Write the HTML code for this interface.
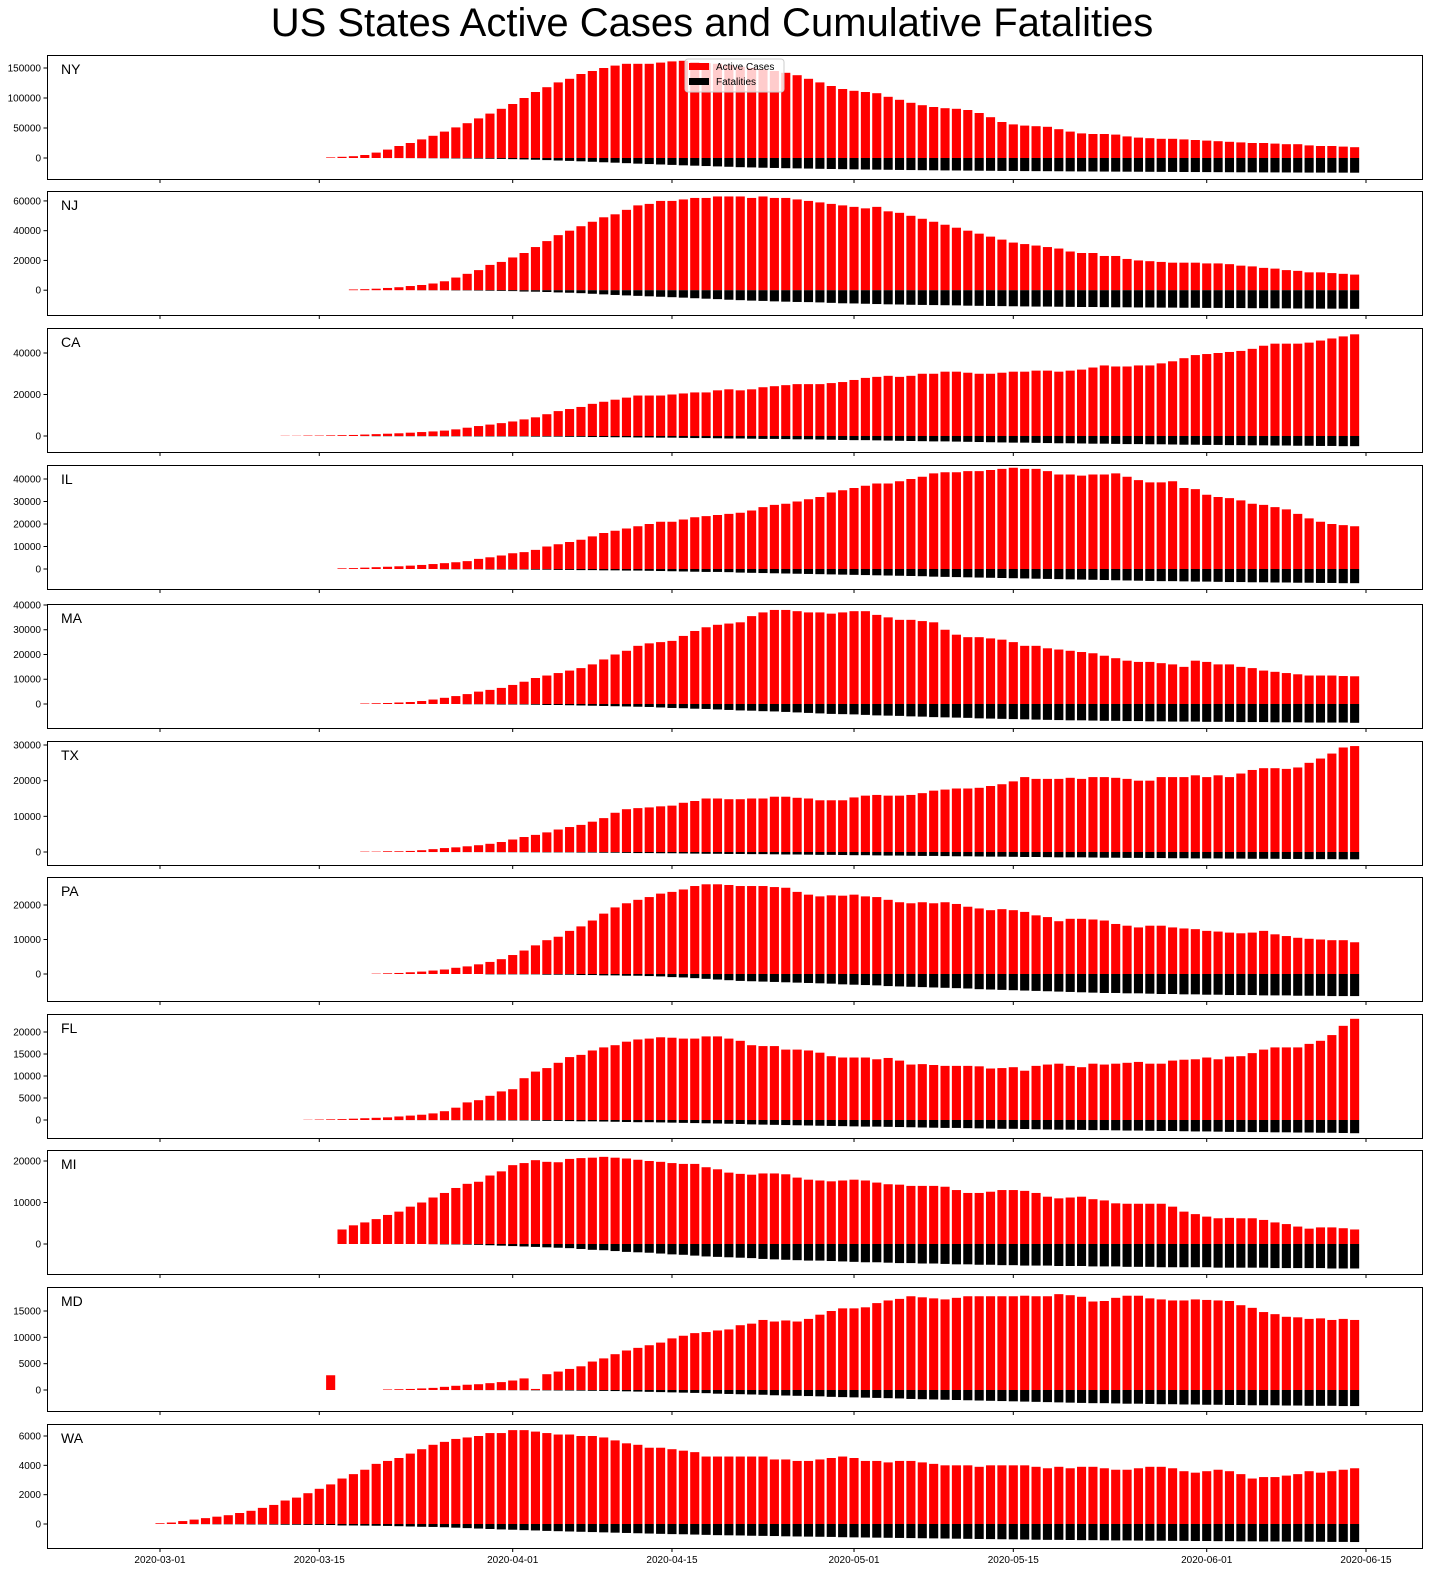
<!DOCTYPE html>
<html><head><meta charset="utf-8"><style>
html,body{margin:0;padding:0;background:#fff;}
svg{display:block;font-family:"Liberation Sans","DejaVu Sans",sans-serif;}
</style></head><body>
<svg id="chart" width="1440" height="1584" viewBox="0 0 1440 1584" xmlns="http://www.w3.org/2000/svg">
<text x="712" y="36" font-size="40" text-anchor="middle" fill="#000">US States Active Cases and Cumulative Fatalities</text>
</svg>
<script>
// values in thousands, day index 0 = 2020-03-01
const states = ["NY","NJ","CA","IL","MA","TX","PA","FL","MI","MD","WA"];
const startDays = [15,17,11,16,18,18,19,13,16,15,0];
const xTickLabels = ["2020-03-01","2020-03-15","2020-04-01","2020-04-15","2020-05-01","2020-05-15","2020-06-01","2020-06-15"];
const xTickDays = [0,14,31,45,61,75,92,106];
const yTicks = [[0,50000,100000,150000],[0,20000,40000,60000],[0,20000,40000],[0,10000,20000,30000,40000],[0,10000,20000,30000,40000],[0,10000,20000,30000],[0,10000,20000],[0,5000,10000,15000,20000],[0,10000,20000],[0,5000,10000,15000],[0,2000,4000,6000]];
const yMin = [-35000,-16667,-7711,-8889,-9697,-3645,-7826,-4091,-7229,-3987,-1636];
const yMax = [171667,66667,52048,46222,40400,31121,28116,24091,22651,19557,6818];

const nyActive = [1,2,3,5,9,14,20,25,31,37,44,51,58,66,74,82,90,100,110,118,126,132,140,145,150,154,157,157,157,159,161,162,160,158,157,155,152,150,148,145,142,138,132,126,120,115,112,110,108,102,97,92,88,85,83,82,80,75,68,60,56,54,53,52,48,44,41,40,40,39,36,34,33,32,32,31,30,29,28,27,26,25,25,24,23,23,21,20,20,19,18];
const nyDeaths = [0,0,0,0,0,0.1,0.1,0.2,0.3,0.4,0.5,0.7,0.9,1.0,1.2,1.5,1.9,2.4,2.9,3.5,4.2,4.8,5.5,6.3,7.1,7.8,8.6,9.4,10.1,10.8,11.5,12.2,12.8,13.4,14.0,14.6,15.3,15.7,16.2,16.6,17.0,17.3,17.6,18.0,18.3,18.6,18.9,19.2,19.4,19.6,19.9,20.1,20.3,20.5,20.7,20.8,21.0,21.2,21.3,21.5,21.6,21.8,21.9,22.0,22.1,22.3,22.4,22.5,22.6,22.7,22.8,22.9,23.0,23.1,23.2,23.3,23.4,23.5,23.6,23.7,23.8,23.9,24.0,24.0,24.1,24.2,24.3,24.3,24.4,24.4,24.5];
const njActive = [0.5,0.7,1,1.5,2,2.8,3.5,4.5,6,8.5,11,13.5,17,19,22,25,29,33,37,40,43,46,49,51,54,57,58,60,60,61,62,62,63,63,63,62,63,62,62,61,60,59,58,57,56,55,56,53,52,50,48,46,44,42,40,38,36,34,32,31,30,29,28,26,25,25,23,23,21,20,19.5,19,18.5,18.5,18.5,18,18,17.5,16.5,16,15,14.5,13.5,13,12,12,11.5,11,10.5];
const njDeaths = [0,0,0,0,0,0,0.1,0.1,0.1,0.2,0.2,0.3,0.4,0.5,0.6,0.9,1.0,1.2,1.5,1.7,2.0,2.4,2.8,3.2,3.5,3.8,4.1,4.4,4.7,5.0,5.4,5.7,6.0,6.4,6.7,7.0,7.2,7.5,7.7,7.9,8.0,8.2,8.5,8.8,8.9,9.1,9.3,9.5,9.6,9.8,9.9,10.0,10.1,10.2,10.4,10.5,10.6,10.7,10.8,10.9,11.0,11.0,11.1,11.2,11.3,11.3,11.4,11.5,11.5,11.6,11.6,11.7,11.7,11.8,11.8,11.9,11.9,12.0,12.0,12.1,12.1,12.2,12.2,12.3,12.3,12.4,12.4,12.4,12.5];
const caActive = [0.1,0.1,0.2,0.2,0.3,0.4,0.5,0.7,0.9,1.1,1.3,1.6,1.9,2.2,2.6,3.2,4,4.8,5.5,6.2,7,8,9,10.5,12,13,14,15.5,16.5,17.5,18.5,19.5,19.5,19.5,20,20.5,21,21,22,22.5,22,22.5,23.5,24,24.5,25,25,25,25.5,26,27,28,28.5,29,28.5,29,30,30,31,31,30.5,30,30,30.5,31,31,31.5,31.5,31,31.5,32,33,34,33.5,33.5,34,34,35,36,37.5,39,39.5,40,40.5,41,42,43.5,44.5,44.5,44.5,45,46,47,48,49];
const caDeaths = [0,0,0,0,0,0,0,0.05,0.1,0.1,0.1,0.1,0.1,0.1,0.15,0.15,0.15,0.2,0.2,0.2,0.2,0.2,0.3,0.3,0.3,0.4,0.4,0.5,0.5,0.6,0.6,0.7,0.7,0.8,0.8,0.9,1.0,1.0,1.1,1.2,1.2,1.3,1.4,1.4,1.5,1.6,1.6,1.7,1.8,1.9,2.0,2.0,2.1,2.2,2.3,2.4,2.5,2.6,2.6,2.7,2.8,2.9,3.0,3.1,3.2,3.2,3.3,3.4,3.5,3.5,3.6,3.7,3.7,3.8,3.9,3.9,4.0,4.0,4.1,4.2,4.2,4.3,4.3,4.4,4.4,4.5,4.5,4.6,4.6,4.7,4.7,4.8,4.8,4.9,4.9];
const ilActive = [0.3,0.4,0.6,0.8,1,1.2,1.5,1.8,2.2,2.6,3,3.5,4.5,5.2,6,7,7.5,8.5,10,11,12,13,14.5,16,17,18,19,20,21,21,22,23,23.5,24,24.5,25,26,27.5,28.5,29,30,31,32,34,35,36,37,38,38,39,40,41,42.5,43,43,43.5,43.5,44,44.5,45,44.5,44.5,43.5,42,42,41.5,42,42,42.5,41,39.5,38.5,38.5,39,36,35.5,33,32,31.5,30.5,29,28.5,27.5,26.5,24.5,22.5,21,20,19.5,19];
const ilDeaths = [0,0,0,0,0,0,0,0,0,0.1,0.1,0.1,0.1,0.2,0.2,0.2,0.2,0.3,0.3,0.4,0.4,0.5,0.5,0.6,0.6,0.7,0.7,0.8,0.9,1.0,1.1,1.2,1.3,1.3,1.4,1.6,1.7,1.8,1.9,2.0,2.1,2.2,2.3,2.4,2.5,2.6,2.7,2.8,2.9,3.0,3.1,3.2,3.4,3.5,3.6,3.7,3.8,3.9,4.0,4.1,4.2,4.3,4.4,4.5,4.6,4.7,4.8,4.9,5.0,5.1,5.2,5.3,5.4,5.4,5.5,5.6,5.6,5.7,5.8,5.8,5.9,5.9,6.0,6.0,6.1,6.1,6.2,6.2,6.3,6.3];
const maActive = [0.2,0.3,0.4,0.6,0.8,1.2,1.8,2.5,3.2,4,5,5.7,6.5,7.7,9,10.5,11.5,12.5,13.5,14.5,16,18,20,21.5,23.5,24.5,25,25.5,27.5,29.5,31,32,32.5,33,35.5,37,38,38,37.5,37,37,36.5,37,37.5,37.5,36,35,34,34,33.5,33,30,28,27,27,26.5,26,25,23.5,23.5,22.5,22,21.5,21,20.5,19.5,18.5,17.5,17,17,16.5,16,15,17.5,17,16,16,15,14.5,13.5,13,12.5,12,11.5,11.5,11.5,11.3,11.2];
const maDeaths = [0,0,0,0,0,0,0,0,0,0.1,0.1,0.1,0.2,0.2,0.2,0.3,0.4,0.4,0.5,0.6,0.7,0.8,0.9,1.0,1.1,1.2,1.4,1.6,1.7,1.9,2.0,2.2,2.4,2.6,2.7,2.9,3.0,3.2,3.4,3.6,3.8,4.0,4.1,4.2,4.4,4.6,4.7,4.8,5.0,5.1,5.3,5.4,5.5,5.6,5.8,5.9,6.0,6.1,6.2,6.3,6.4,6.5,6.6,6.6,6.7,6.8,6.8,6.9,6.9,7.0,7.0,7.1,7.1,7.1,7.2,7.2,7.2,7.3,7.3,7.3,7.4,7.4,7.4,7.5,7.5,7.5,7.5,7.6];
const txActive = [0.1,0.1,0.2,0.2,0.3,0.5,0.8,1.1,1.3,1.6,1.9,2.3,2.8,3.5,4.2,4.8,5.5,6.3,7,7.6,8.5,9.5,11,12,12.3,12.5,12.8,13,13.8,14.3,15,15,14.8,14.8,15,15,15.5,15.5,15.2,15,14.5,14.5,14.5,15.3,15.8,16,15.8,15.8,16,16.5,17.2,17.5,17.8,17.8,18,18.5,19,19.8,21,20.5,20.5,20.5,20.8,20.5,21,21,20.8,20.5,20,20,21,21,21,21.5,21,21.5,21,22,23,23.5,23.5,23.3,23.7,25,26.2,27.6,29.3,29.7];
const txDeaths = [0,0,0,0,0,0.01,0.01,0.02,0.02,0.03,0.03,0.04,0.05,0.06,0.07,0.08,0.1,0.1,0.1,0.15,0.15,0.2,0.2,0.25,0.3,0.3,0.35,0.35,0.4,0.45,0.5,0.5,0.55,0.55,0.6,0.6,0.65,0.7,0.7,0.75,0.8,0.8,0.85,0.9,0.9,0.95,1.0,1.0,1.05,1.1,1.1,1.15,1.2,1.2,1.25,1.3,1.3,1.35,1.4,1.4,1.45,1.5,1.5,1.5,1.55,1.6,1.6,1.65,1.65,1.7,1.7,1.75,1.75,1.8,1.8,1.8,1.85,1.85,1.9,1.9,1.9,1.95,1.95,2.0,2.0,2.0,2.05,2.05];
const paActive = [0.1,0.2,0.3,0.5,0.7,1,1.3,1.8,2.2,2.8,3.5,4.3,5.5,6.8,8.3,9.8,10.8,12.5,13.8,15.5,17.5,19.3,20.5,21.5,22.3,23.3,23.8,24.5,25.5,26,26,25.8,25.5,25.5,25.5,25.2,25,23.8,23,22.5,22.8,22.7,23,22.5,22.3,21.5,20.8,20.5,20.8,20.5,20.8,20.3,19.5,19,18.5,18.8,18.5,18,17,16.5,15.3,16,16,15.8,15.5,14.5,14,13.5,14,14,13.5,13.2,13,12.5,12.3,12,11.8,12,12.5,11.5,11,10.5,10.2,10,9.8,9.8,9.2];
const paDeaths = [0,0,0,0,0,0,0,0,0,0,0.1,0.1,0.1,0.1,0.1,0.2,0.2,0.2,0.3,0.3,0.4,0.4,0.5,0.5,0.6,0.7,0.9,1.0,1.2,1.4,1.6,1.8,2.0,2.1,2.2,2.3,2.4,2.5,2.6,2.7,2.8,3.0,3.1,3.2,3.3,3.5,3.6,3.7,3.8,3.9,4.0,4.1,4.2,4.4,4.5,4.6,4.7,4.8,4.9,5.0,5.1,5.2,5.3,5.4,5.5,5.5,5.6,5.6,5.7,5.8,5.8,5.9,5.9,6.0,6.0,6.1,6.1,6.1,6.2,6.2,6.2,6.3,6.3,6.3,6.4,6.4,6.4];
const flActive = [0.05,0.1,0.15,0.2,0.3,0.4,0.5,0.6,0.8,1,1.2,1.5,2,2.8,4,4.5,5.5,6.5,7,9.5,11,11.8,13,14.3,14.8,15.8,16.5,17,17.8,18.3,18.5,18.8,18.7,18.5,18.5,19,19,18.5,18,17,16.8,16.8,16,16,15.8,15.3,14.5,14.2,14.2,14.2,13.8,14.1,13.5,12.6,12.7,12.5,12.3,12.3,12.3,12.2,11.7,11.8,12,11.2,12.3,12.6,12.8,12.3,12,12.8,12.6,12.8,13,13.2,12.8,12.8,13.5,13.7,13.8,14.2,13.8,14.4,14.5,15.2,16,16.5,16.5,16.5,17.3,18,19.3,21.4,23];
const flDeaths = [0,0,0,0,0,0,0.01,0.01,0.02,0.02,0.03,0.03,0.04,0.05,0.06,0.07,0.08,0.1,0.1,0.1,0.15,0.2,0.2,0.25,0.3,0.3,0.35,0.4,0.45,0.5,0.5,0.55,0.6,0.65,0.7,0.75,0.8,0.85,0.9,1.0,1.05,1.1,1.15,1.2,1.25,1.3,1.35,1.4,1.45,1.5,1.5,1.55,1.6,1.65,1.7,1.75,1.8,1.8,1.85,1.9,1.95,2.0,2.0,2.05,2.1,2.15,2.2,2.2,2.25,2.3,2.3,2.35,2.4,2.4,2.45,2.5,2.5,2.55,2.6,2.6,2.65,2.7,2.7,2.75,2.75,2.8,2.8,2.85,2.85,2.9,2.9,2.95,3.0];
const miActive = [3.5,4.5,5.2,6,7,7.8,9,10,11.2,12.3,13.5,14.5,15,16.5,17.5,19,19.5,20.2,19.8,19.7,20.5,20.7,20.8,21,20.8,20.6,20.3,20,19.8,19.5,19.3,19.3,18.5,18,17.2,16.9,16.7,17,17,16.8,16,15.5,15.3,15.1,15.3,15.5,15.3,14.8,14.4,14.3,14,14,14,13.8,13,12.3,12.3,12.6,13,13,12.8,12.3,11.4,11,11.2,11.4,10.8,10.5,9.8,9.7,9.7,9.7,9.7,9,7.8,7.2,6.6,6.2,6.3,6.2,6.2,5.8,5.2,4.8,4.2,3.7,4.0,4.0,3.8,3.5];
const miDeaths = [0,0,0,0,0,0,0,0,0.05,0.1,0.1,0.15,0.2,0.3,0.4,0.5,0.6,0.7,0.8,0.9,1.0,1.2,1.4,1.5,1.7,1.9,2.0,2.1,2.3,2.5,2.6,2.8,3.0,3.1,3.2,3.3,3.4,3.6,3.7,3.8,3.9,4.0,4.0,4.1,4.2,4.3,4.4,4.4,4.5,4.6,4.6,4.7,4.7,4.8,4.9,4.9,5.0,5.0,5.1,5.1,5.2,5.2,5.2,5.3,5.3,5.3,5.4,5.4,5.4,5.5,5.5,5.5,5.6,5.6,5.6,5.6,5.6,5.7,5.7,5.7,5.7,5.7,5.8,5.8,5.8,5.8,5.8,5.9,5.9,5.9];
const mdActive = [2.8,null,null,null,null,0.1,0.15,0.2,0.3,0.4,0.6,0.8,1,1.1,1.3,1.5,1.8,2.2,0.2,3,3.5,4,4.5,5.4,6,6.8,7.5,8,8.5,9,9.8,10.3,10.8,11,11.3,11.5,12.3,12.6,13.3,13,13.2,13,13.5,14.3,15,15.5,15.5,15.7,16.5,17,17.3,17.8,17.6,17.4,17.2,17.5,17.8,17.8,17.8,17.8,17.8,17.9,17.8,17.8,18.2,18,17.7,16.8,16.9,17.5,17.9,17.9,17.4,17.2,17.0,17.0,17.2,17.1,17.0,16.9,16.1,15.6,14.8,14.4,13.9,13.8,13.5,13.6,13.3,13.5,13.3];
const mdDeaths = [0,null,null,null,null,0,0,0,0,0,0.01,0.01,0.01,0.02,0.02,0.03,0.04,0.05,0.06,0.07,0.09,0.1,0.12,0.15,0.17,0.2,0.25,0.3,0.35,0.4,0.45,0.5,0.55,0.6,0.7,0.75,0.8,0.85,0.9,1.0,1.05,1.1,1.15,1.2,1.3,1.35,1.4,1.45,1.5,1.55,1.6,1.7,1.75,1.8,1.85,1.9,1.95,2.0,2.05,2.1,2.15,2.2,2.25,2.3,2.35,2.4,2.45,2.5,2.5,2.55,2.6,2.6,2.65,2.7,2.7,2.75,2.75,2.8,2.8,2.85,2.85,2.9,2.9,2.9,2.95,2.95,3.0,3.0,3.0,3.05,3.05];
const waActive = [0.05,0.1,0.2,0.3,0.4,0.5,0.6,0.75,0.9,1.1,1.3,1.6,1.8,2.1,2.4,2.7,3.1,3.4,3.7,4.1,4.3,4.5,4.8,5.1,5.4,5.6,5.8,5.9,6.0,6.2,6.2,6.4,6.4,6.3,6.2,6.1,6.1,6.0,6.0,5.9,5.7,5.5,5.4,5.2,5.2,5.1,5.0,4.9,4.6,4.6,4.6,4.6,4.6,4.6,4.4,4.4,4.3,4.3,4.4,4.5,4.6,4.5,4.3,4.3,4.2,4.3,4.3,4.2,4.1,4.0,4.0,4.0,3.9,4.0,4.0,4.0,4.0,3.9,3.8,3.9,3.8,3.9,3.9,3.8,3.7,3.7,3.8,3.9,3.9,3.8,3.6,3.5,3.6,3.7,3.6,3.4,3.1,3.2,3.2,3.3,3.4,3.6,3.5,3.6,3.7,3.8];
const waDeaths = [0,0,0,0.01,0.01,0.02,0.02,0.02,0.03,0.03,0.04,0.05,0.05,0.06,0.06,0.07,0.1,0.1,0.11,0.12,0.13,0.15,0.17,0.19,0.2,0.22,0.25,0.28,0.31,0.34,0.37,0.39,0.42,0.44,0.47,0.49,0.51,0.53,0.55,0.57,0.59,0.61,0.63,0.65,0.67,0.69,0.7,0.72,0.74,0.76,0.77,0.78,0.8,0.81,0.82,0.84,0.85,0.86,0.87,0.88,0.9,0.91,0.92,0.93,0.94,0.95,0.96,0.97,0.98,0.99,1.0,1.01,1.02,1.03,1.04,1.05,1.06,1.07,1.08,1.08,1.09,1.1,1.1,1.11,1.12,1.12,1.13,1.14,1.14,1.15,1.15,1.16,1.16,1.17,1.17,1.18,1.18,1.19,1.19,1.2,1.2,1.21,1.21,1.22,1.22,1.23];

const activeSeries = [nyActive,njActive,caActive,ilActive,maActive,txActive,paActive,flActive,miActive,mdActive,waActive];
const deathSeries = [nyDeaths,njDeaths,caDeaths,ilDeaths,maDeaths,txDeaths,paDeaths,flDeaths,miDeaths,mdDeaths,waDeaths];

const NS = "http://www.w3.org/2000/svg";
const svg = document.getElementById('chart');
const plotLeft = 47, plotRight = 1422, plotH = 124;
const axisTops = [55,191,328,465,604,741,877,1014,1150,1287,1424];
const pxPerDay = (1366 - 160) / 106;
function xScale(day){ return 160 + day * pxPerDay; }
const barW = 0.8 * pxPerDay;
function mk(tag, attrs){ const e = document.createElementNS(NS, tag); for (const k in attrs) e.setAttribute(k, attrs[k]); return e; }
function fmt(v){ return String(v); }

states.forEach((st, i) => {
  const top = axisTops[i];
  const g = mk('g', {});
  
  
  svg.appendChild(g);
  const yScale = v => top + (yMax[i] - v) / (yMax[i] - yMin[i]) * plotH;
  const act = activeSeries[i], dth = deathSeries[i];
  act.forEach((v, k) => {
    if (v === null) return;
    const day = startDays[i] + k;
    const y0 = yScale(0), y1 = yScale(v * 1000);
    const r = mk('rect', {x: xScale(day) - barW/2, y: Math.min(y0,y1), width: barW, height: Math.abs(y0-y1), fill: '#ff0000'});
    
    
    g.appendChild(r);
  });
  dth.forEach((v, k) => {
    if (v === null) return;
    const day = startDays[i] + k;
    const y0 = yScale(0), y1 = yScale(-v * 1000);
    const r = mk('rect', {x: xScale(day) - barW/2, y: y0, width: barW, height: Math.max(0, y1 - y0), fill: '#000'});
    
    
    g.appendChild(r);
  });
  const frame = mk('rect', {x: plotLeft + 0.5, y: top + 0.5, width: plotRight - plotLeft, height: plotH, fill: 'none', stroke: '#000', 'stroke-width': 1});
  
  
  g.appendChild(frame);
  yTicks[i].forEach(t => {
    const y = yScale(t);
    const tk = mk('line', {x1: plotLeft - 3.5, x2: plotLeft + 0.5, y1: y, y2: y, stroke: '#000', 'stroke-width': 1});
    
    
    g.appendChild(tk);
    const tx = mk('text', {x: plotLeft - 6, y: y + 3.5, 'font-size': 10, 'text-anchor': 'end', fill: '#000'});
    tx.textContent = fmt(t);
    
    
    g.appendChild(tx);
  });
  xTickDays.forEach((d, j) => {
    const x = xScale(d);
    const tk = mk('line', {x1: x, x2: x, y1: top + plotH + 0.5, y2: top + plotH + 4, stroke: '#000', 'stroke-width': 1});
    
    
    g.appendChild(tk);
    if (i === states.length - 1) {
      const tx = mk('text', {x: x, y: top + plotH + 15, 'font-size': 10, 'text-anchor': 'middle', fill: '#000'});
      tx.textContent = xTickLabels[j];
      
      
      g.appendChild(tx);
    }
  });
  const lab = mk('text', {x: 61, y: top + 19, 'font-size': 14, fill: '#000'});
  lab.textContent = st;
  
  
  g.appendChild(lab);
});

// legend
const lg = mk('g', {});


svg.appendChild(lg);
const lbox = mk('rect', {x: 685, y: 59, width: 99, height: 33, rx: 3, fill: '#fff', 'fill-opacity': 0.8, stroke: '#ccc'});


lg.appendChild(lbox);
const legendItems = [['Active Cases','#ff0000'],['Fatalities','#000']];
legendItems.forEach((it, j) => {
  const y = 63 + j * 15;
  const sw = mk('rect', {x: 689, y: y, width: 20, height: 7, fill: it[1]});
  
  
  lg.appendChild(sw);
  const t = mk('text', {x: 716, y: y + 7, 'font-size': 10, fill: '#000'});
  t.textContent = it[0];
  
  
  lg.appendChild(t);
});
</script>
</body></html>
